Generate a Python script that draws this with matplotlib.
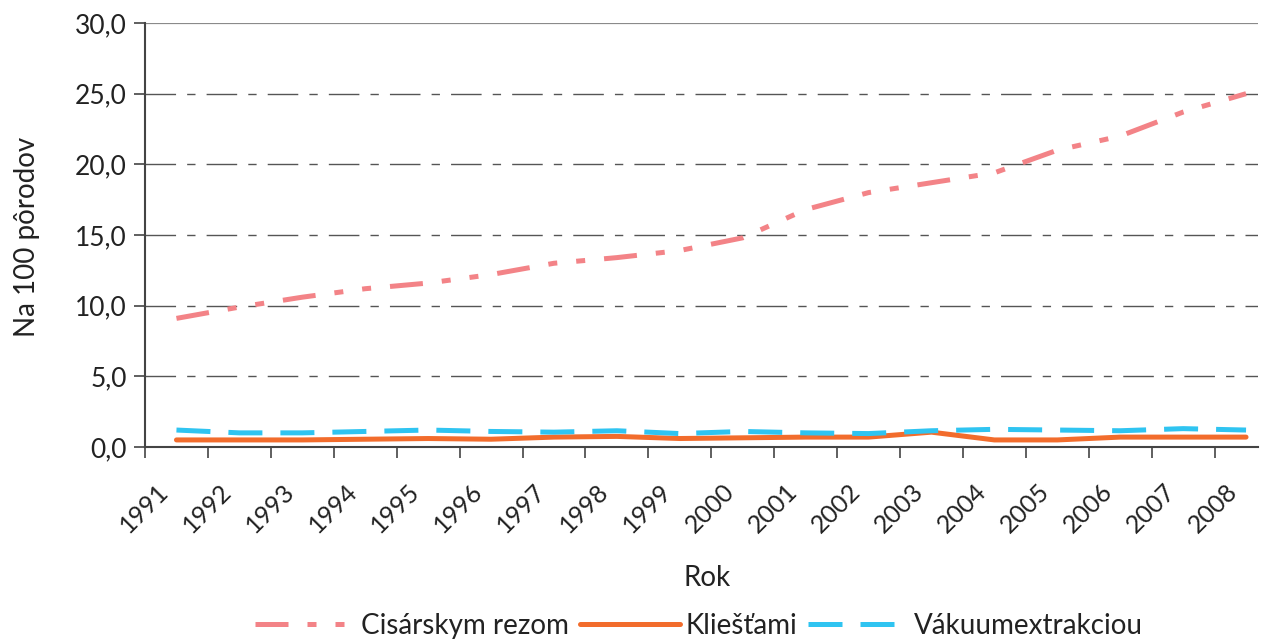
import numpy as np
import matplotlib
matplotlib.use("Agg")
import matplotlib.pyplot as plt
from matplotlib.ticker import FixedLocator, FuncFormatter, NullFormatter
from matplotlib.transforms import ScaledTranslation
from matplotlib.lines import Line2D

plt.rcParams['font.family'] = ['Lato', 'DejaVu Sans']

# data
years = [str(y) for y in range(1991, 2009)]
cisarsky_rez = [9.1, 9.9, 10.6, 11.2, 11.6, 12.2, 13.0, 13.4, 13.9, 14.8,
                16.8, 18.0, 18.7, 19.4, 21.0, 22.0, 23.7, 25.0]
kliestami = [0.5, 0.5, 0.5, 0.55, 0.6, 0.55, 0.7, 0.75, 0.6, 0.65,
             0.7, 0.7, 1.05, 0.5, 0.5, 0.7, 0.7, 0.7]
vakuum = [1.2, 1.0, 1.0, 1.1, 1.2, 1.1, 1.05, 1.15, 0.95, 1.1,
          1.0, 0.95, 1.15, 1.25, 1.2, 1.15, 1.3, 1.2]
series_names = ["Cisárskym rezom", "Kliešťami", "Vákuumextrakciou"]

PINK = "#F38387"
ORANGE = "#F26C2C"
BLUE = "#2FC4F1"
GRID = "#555555"
AXIS = "#444444"
TEXT = "#222222"

fig = plt.figure(figsize=(12.69, 6.41), dpi=100)
ax = fig.add_axes([145 / 1269, 194 / 641, (1258 - 145) / 1269, 424 / 641])

x = np.arange(len(years))
lw = 3.6
pink_dash = (6.6, 3.8, 1.8, 3.8, 1.8, 3.8)
blue_dash = (6.8, 3.6)

ax.plot(x, cisarsky_rez, color=PINK, lw=lw, dash_capstyle='butt', dashes=pink_dash, zorder=3)
ax.plot(x, kliestami, color=ORANGE, lw=lw, solid_capstyle='round', zorder=3)
ax.plot(x, vakuum, color=BLUE, lw=lw, dash_capstyle='butt', dashes=blue_dash, zorder=4)

ax.set_ylim(0, 30)
ax.set_xlim(-0.5, 17.19)

# grid lines
for yv in [5, 10, 15, 20, 25]:
    ax.axhline(yv, color=GRID, lw=1.0, dashes=(22, 8, 6, 8), zorder=1)
ax.axhline(30, color="#8a8a8a", lw=1.6, zorder=1)

ax.set_yticks(np.arange(0, 31, 5))
ax.yaxis.set_major_formatter(FuncFormatter(lambda v, p: f"{v:.1f}".replace(".", ",")))
ax.tick_params(axis='y', direction='out', length=8, width=1.2, color=AXIS,
               labelsize=19, labelcolor=TEXT, pad=5)

# category axis: ticks on boundaries, labels at centres
ax.xaxis.set_major_locator(FixedLocator(np.arange(-0.5, 17.6, 1)))
ax.xaxis.set_major_formatter(NullFormatter())
ax.set_xticks(x, years, minor=True)
ax.tick_params(axis='x', which='major', direction='out', length=8, width=1.2, color=AXIS)
ax.tick_params(axis='x', which='minor', length=0, labelsize=18, labelcolor=TEXT, pad=29)
offset = ScaledTranslation(-0.12, 0, fig.dpi_scale_trans)
for lab in ax.get_xticklabels(minor=True):
    lab.set_rotation(45)
    lab.set_rotation_mode('anchor')
    lab.set_ha('right')
    lab.set_va('center')
    lab.set_transform(lab.get_transform() + offset)

for side in ['top', 'right']:
    ax.spines[side].set_visible(False)
for side in ['left', 'bottom']:
    ax.spines[side].set_color(AXIS)
    ax.spines[side].set_linewidth(1.5)

ax.set_xlabel("Rok", fontsize=20, color=TEXT)
ax.xaxis.set_label_coords(0.505, (447 - 565) / 424)
ax.set_ylabel("Na 100 pôrodov", fontsize=20, color=TEXT, va='center')
ax.yaxis.set_label_coords((27 - 145) / 1113, 0.495)

handles = [
    Line2D([], [], color=PINK, lw=lw, dash_capstyle='butt', dashes=pink_dash),
    Line2D([], [], color=ORANGE, lw=lw, solid_capstyle='round'),
    Line2D([], [], color=BLUE, lw=lw, dash_capstyle='butt', dashes=blue_dash),
]
fig.legend(handles, series_names, loc='center', bbox_to_anchor=(699 / 1269, 1 - 626 / 641),
           ncol=3, frameon=False, fontsize=20, handlelength=3.6, handletextpad=0.2,
           columnspacing=0.4, labelcolor=TEXT, borderpad=0.1)

fig.savefig("out.png", dpi=100)
